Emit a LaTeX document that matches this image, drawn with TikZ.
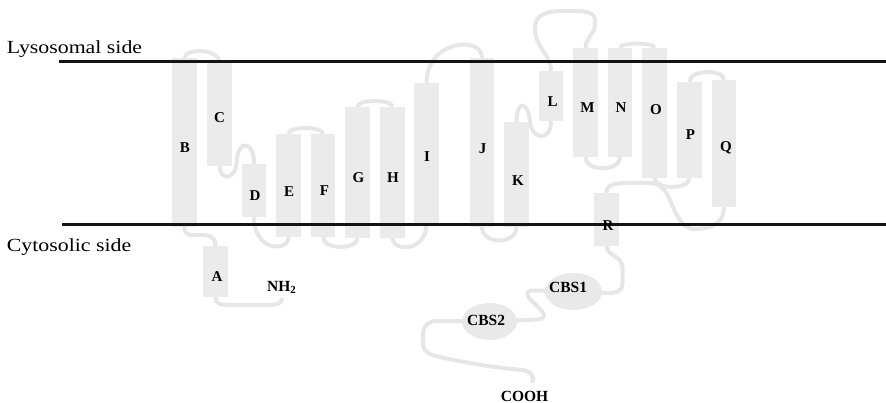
\documentclass[tikz,border=0pt]{standalone}
\usepackage{fontspec}
\usepackage{graphicx}
\setmainfont{Liberation Serif}
\usetikzlibrary{backgrounds,shapes.geometric}
\definecolor{helixgray}{HTML}{EBEBEB}
\definecolor{loopgray}{HTML}{E6E6E6}
\definecolor{cbsgray}{HTML}{E9E9E9}
\newcommand\mkhelix[4]{\node[helixbox, minimum height=#4pt] (#1) at (#2,#3) {};}
\begin{document}
\begin{tikzpicture}[x=1pt,y=-1pt,
 helixbox/.style={rectangle, fill=helixgray, draw=none, minimum width=24.5pt, inner sep=0pt, outer sep=0pt},
 cbsbox/.style={ellipse, fill=cbsgray, draw=none, inner sep=0pt, outer sep=0pt},
 loopline/.style={draw=loopgray, line width=4pt},
 membrane/.style={draw=black!92, line width=3pt},
 hlabel/.style={font=\fontsize{15}{15}\selectfont\bfseries, inner sep=0pt, anchor=base},
 blabel/.style={font=\fontsize{15.5}{15.5}\selectfont\bfseries, inner sep=0pt, anchor=base west},
 sidelabel/.style={font=\fontsize{18.5}{18.5}\selectfont, inner sep=0pt, anchor=base west}]

\useasboundingbox (0,0) rectangle (886,403);

% helices
\mkhelix{A}{215.5}{271.5}{51}
\mkhelix{B}{184.5}{142.5}{169}
\mkhelix{C}{219.5}{114.5}{103}
\mkhelix{D}{254}{190.5}{53}
\mkhelix{E}{288.5}{185.5}{103}
\mkhelix{F}{323}{185.5}{103}
\mkhelix{G}{357.5}{172.5}{131}
\mkhelix{H}{392.5}{172.5}{131}
\mkhelix{I}{426.5}{153.5}{141}
\mkhelix{J}{482}{142.5}{169}
\mkhelix{K}{516.5}{174.5}{105}
\mkhelix{L}{551}{96}{50}
\mkhelix{M}{585.5}{102.5}{109}
\mkhelix{N}{620}{102.5}{109}
\mkhelix{O}{654.5}{113}{130}
\mkhelix{P}{689.5}{130}{96}
\mkhelix{Q}{724}{143.5}{127}
\mkhelix{R}{606.5}{219.5}{53}

% CBS domains
\node[cbsbox, minimum width=57pt, minimum height=37pt] (CBS1) at (573.5,291.5) {};
\node[cbsbox, minimum width=55pt, minimum height=37pt] (CBS2) at (489.5,321.5) {};

\coordinate (nh2end) at (282,298);
\coordinate (coohend) at (532,383);

% loops
\begin{pgfonlayer}{background}
\draw[loopline] (B.south) .. controls (184.5,236) and (190,235) .. (200,235) .. controls (212,235) and (215.5,238) .. (A.north);
\draw[loopline] (A.south) .. controls (215.5,305) and (222,305) .. (230,305) -- (268,305) .. controls (278,305) and (282,303) .. (nh2end);
\draw[loopline] (B.north) .. controls (184.5,48) and (219.5,48) .. (C.north);
\draw[loopline] (C.south) .. controls (219.5,180) and (236,182) .. (237,160) .. controls (238,140) and (254,140) .. (D.north);
\draw[loopline] (D.south) .. controls (254,252) and (288.5,252) .. (E.south);
\draw[loopline] (E.north) .. controls (288.5,126) and (323,126) .. (F.north);
\draw[loopline] (F.south) .. controls (323,250) and (357.5,250) .. (G.south);
\draw[loopline] (G.north) .. controls (357.5,99) and (392.5,99) .. (H.north);
\draw[loopline] (H.south) .. controls (392.5,252) and (426.5,252) .. (I.south);
\draw[loopline] (I.north) .. controls (426.5,40) and (482,35) .. (J.north);
\draw[loopline] (J.south) .. controls (482,245) and (516.5,245) .. (K.south);
\draw[loopline] (K.north) .. controls (516.5,100) and (528,100) .. (530,122) .. controls (532,140) and (551,142) .. (L.south);
\draw[loopline] (L.north) .. controls (551,55) and (536,48) .. (535,30) .. controls (534,12) and (550,11) .. (565,11) .. controls (585,11) and (597,10) .. (595,25) .. controls (594,35) and (585.5,38) .. (M.north);
\draw[loopline] (M.south) .. controls (585.5,172) and (620,172) .. (N.south);
\draw[loopline] (N.north) .. controls (620,42) and (654.5,42) .. (O.north);
\draw[loopline] (O.south) .. controls (654.5,190) and (689.5,190) .. (P.south);
\draw[loopline] (P.north) .. controls (689.5,69) and (724,69) .. (Q.north);
\draw[loopline] (R.north) .. controls (606.5,184) and (615,183) .. (630,183) -- (650,183) .. controls (668,183) and (670,205) .. (677,215) .. controls (682,224) and (686,229) .. (695,229) .. controls (715,229) and (724,220) .. (Q.south);
\draw[loopline] (R.south) .. controls (607,256) and (622.5,256) .. (622.5,268) -- (622.5,283) .. controls (622.5,292) and (616,293) .. (608,293) -- (CBS1.center);
\draw[loopline] (CBS1.center) -- (533,290.5) .. controls (526,290.5) and (526,295) .. (530,299) -- (541,310) .. controls (546,315) and (544,319.5) .. (538,319.5) -- (CBS2.center);
\draw[loopline] (CBS2.center) -- (437,321) .. controls (428,321) and (423,326) .. (423,335) -- (423,343) .. controls (423,352) and (430,355) .. (440,357) .. controls (470,364) and (500,368) .. (522,370) .. controls (530,371) and (535,375) .. (coohend);
\end{pgfonlayer}

% membrane
\coordinate (lysL) at (59,62);
\coordinate (lysR) at (886,62);
\coordinate (cytL) at (62,225);
\coordinate (cytR) at (886,225);
\draw[membrane] (lysL) -- (lysR);
\draw[membrane] (cytL) -- (cytR);

% side labels
\node[sidelabel] (lyso) at (6.7,53.3) {\scalebox{1.18}[1]{Lysosomal side}};
\node[sidelabel] (cyto) at (6.7,251.7) {\scalebox{1.18}[1]{Cytosolic side}};

% helix labels
\node[hlabel] (lA) at (217,282) {A};
\node[hlabel] (lB) at (185,153) {B};
\node[hlabel] (lC) at (219.5,123) {C};
\node[hlabel] (lD) at (255,200.5) {D};
\node[hlabel] (lE) at (289,197) {E};
\node[hlabel] (lF) at (324.5,196) {F};
\node[hlabel] (lG) at (358.5,183) {G};
\node[hlabel] (lH) at (393,183) {H};
\node[hlabel] (lI) at (427,161.5) {I};
\node[hlabel] (lJ) at (482.5,153.5) {J};
\node[hlabel] (lK) at (518,185.5) {K};
\node[hlabel] (lL) at (552.5,107) {L};
\node[hlabel] (lM) at (587.5,113) {M};
\node[hlabel] (lN) at (621,113) {N};
\node[hlabel] (lO) at (656,114.5) {O};
\node[hlabel] (lP) at (690.5,140) {P};
\node[hlabel] (lQ) at (726,152) {Q};
\node[hlabel] (lR) at (608,231) {R};

% other labels
\node[blabel] (nh2) at (267,291) {NH\textsubscript{2}};
\node[blabel] (cbs1t) at (549,293) {CBS1};
\node[blabel] (cbs2t) at (467,325) {CBS2};
\node[blabel] (cooh) at (500.7,401) {COOH};
\end{tikzpicture}
\end{document}
